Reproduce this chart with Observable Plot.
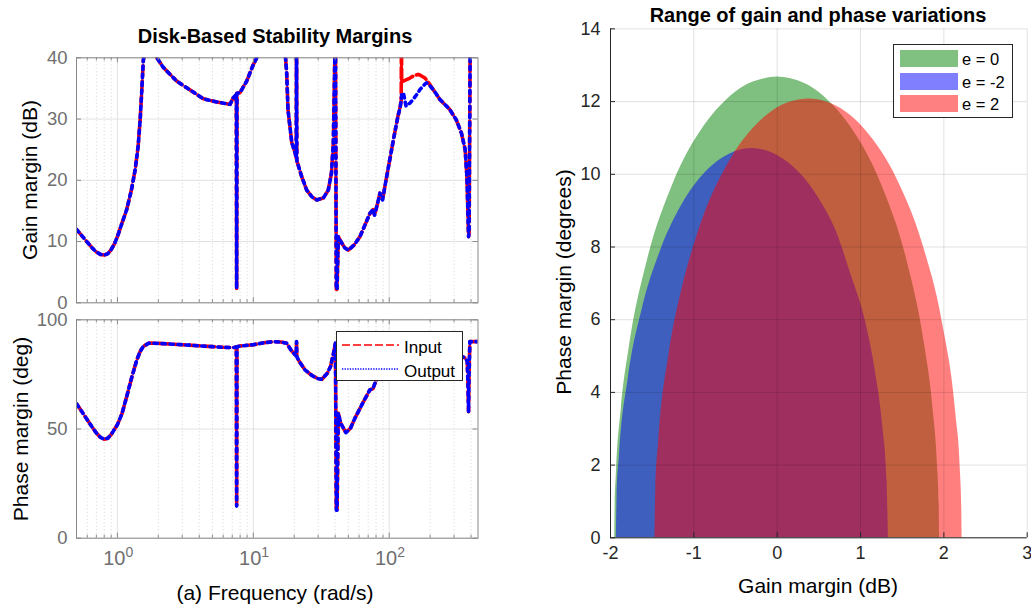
<!DOCTYPE html>
<html>
<head>
<meta charset="utf-8">
<script src="https://cdn.jsdelivr.net/npm/d3@7"></script>
<script src="https://cdn.jsdelivr.net/npm/@observablehq/plot@0.6"></script>
<style>
  html, body { margin: 0; padding: 0; background: #fff; }
  #root { position: relative; width: 1031px; height: 609px; overflow: hidden; background: #fff;
          font-family: "Liberation Sans", Arial, Helvetica, sans-serif; }
  #root svg { max-width: none; }
  .txt { position: absolute; white-space: nowrap; line-height: 1; }
</style>
</head>
<body>
<div id="root"></div>
<script>
// ---------------- data ----------------
// Disk-based gain margin (dB) vs frequency (rad/s)
const gmFreq = [0.5,0.55,0.6,0.65,0.7,0.75,0.8,0.85,0.9,0.95,1.0,1.08,1.17,1.27,1.35,1.42,1.47,1.51,1.55,1.7,1.85,1.95,
  2.18,2.73,3.24,4.29,5.38,6.74,7.13,7.50,7.54,7.58,7.98,8.94,10.0,10.9,13,16,17.0,17.6,18.0,19.2,20.3,20.7,20.8,20.9,
  22.7,24.7,27,29.3,32.7,35.6,37.6,38.8,39.3,39.8,40.2,40.8,41.3,42.2,44,47,50,55,60.9,66,72.1,76,78,82,85.5,89.4,92.9,
  101,108.6,116,120,122.5,123,123.5,127,133,142,150,163,168,183,188,198,211,236,278,311,340,362,373,380,383.5,387,395,450];
const gmInput = [12.0,10.9,9.9,9.0,8.3,7.9,7.8,8.0,8.7,9.6,10.8,13.0,15.2,18.5,21.7,25.5,29.9,34.5,39.5,46,43,40.0,
  38.4,36.2,35.1,33.3,32.8,32.4,33.5,34.0,2.3,34.2,34.3,36.2,38.9,40.5,47,45,42,37.5,31.5,26.1,24.5,23.6,46,23.2,
  20.6,18.4,17.3,16.8,17.1,18.4,21.2,26.1,33.2,40.5,46,2.2,2.2,10.8,10.0,9.0,8.6,9.4,10.8,12.6,14.6,15.2,14.3,16.2,17.9,16.8,19.0,
  23.4,27.2,30.5,31.8,33,46,36,36.2,36.4,36.7,37.0,37.3,37.2,36.7,36.4,35.7,34.8,33.2,31.6,29.9,27.7,25.0,20.6,14,10.8,11.5,46,48];
const gmOutput = [12.0,10.9,9.9,9.0,8.3,7.9,7.8,8.0,8.7,9.6,10.8,13.0,15.2,18.5,21.7,25.5,29.9,34.5,39.5,46,43,40.0,
  38.4,36.2,35.1,33.3,32.8,32.4,33.5,34.0,2.3,34.2,34.3,36.2,38.9,40.5,47,45,42,37.5,31.5,26.1,24.5,23.6,46,23.2,
  20.6,18.4,17.3,16.8,17.1,18.4,21.2,26.1,33.2,40.5,46,2.2,2.2,10.8,10.0,9.0,8.6,9.4,10.8,12.6,14.6,15.2,14.3,16.2,17.9,16.8,19.0,
  23.4,27.2,30.5,31.8,33,33.5,34,34.3,32.1,32.6,33.2,34.3,34.8,35.7,35.9,35.5,34.8,33.2,31.6,29.9,27.7,25.0,20.6,14,10.8,11.5,46,48];

// Disk-based phase margin (deg) vs frequency (rad/s)
const pmFreq = [0.5,0.55,0.6,0.65,0.7,0.75,0.8,0.85,0.9,0.95,1.0,1.08,1.17,1.28,1.39,1.47,1.55,1.7,2.0,3.0,4.0,5.0,6.0,7.3,
  7.50,7.54,7.58,8.0,10,12,14,16,17.6,19,20.3,20.7,20.8,20.9,22,24,27,30,32,35,37,39,40.2,40.8,41.3,42.2,44,48,52,56,64,72,
  76,78,81,90,100,120,150,200,250,300,362,375,380,383.5,386,392,450];
const pmInput = [61.5,57.8,54.2,51.0,48.2,46.2,45.3,45.8,47.5,49.8,52.0,57,64.8,74,81.7,85.5,87.8,89.3,89.2,88.6,88.1,87.7,87.4,87.3,
  87.6,14.7,87.7,88.0,88.6,89.5,90.0,89.8,89.3,86.0,84.0,83.5,90.0,83.0,80.5,77.1,74.5,73.0,72.8,75.5,78.6,85,89.3,12.8,12.8,57.2,52.6,48.3,50.5,55,62,67.9,
  68.5,70.5,72.5,76.5,80,84,86,86.5,86,85,82.5,81,70,57.9,72,90,90];
const pmOutput = pmInput.slice();

const seriesNames = ["Input", "Output"];
const decadeTicks = [1, 10, 100];
const minorFreqTicks = [0.5,0.6,0.7,0.8,0.9,2,3,4,5,6,7,8,9,20,30,40,50,60,70,80,90,200,300,400];
const gmTicks = [0, 10, 20, 30, 40];
const pmTicks = [0, 50, 100];

// Range of gain and phase variations (upper boundary of each region)
const skewNames = ["e = 0", "e = -2", "e = 2"];
const gainE0  = [-1.949,-1.944,-1.929,-1.870,-1.773,-1.555,-1.253,-0.872,-0.600,-0.424,-0.077,0,0.077,0.424,0.600,0.872,1.253,1.555,1.773,1.870,1.929,1.944,1.949];
const phaseE0 = [0,0.90,1.79,3.56,5.26,7.65,9.71,11.34,12.06,12.38,12.66,12.68,12.66,12.38,12.06,11.34,9.71,7.65,5.26,3.56,1.79,0.90,0];
const gainEm2  = [-1.930,-1.921,-1.893,-1.786,-1.616,-1.396,-1.137,-0.857,-0.567,-0.298,0.002,0.265,0.505,0.720,0.881,1.058,1.178,1.265,1.318,1.335];
const phaseEm2 = [0,1.14,2.26,4.40,6.32,7.92,9.18,10.06,10.56,10.71,10.52,10.05,9.32,8.37,7.27,5.97,4.58,3.10,1.56,0];
const gainE2  = [-1.467,-1.457,-1.423,-1.295,-1.140,-0.971,-0.537,-0.280,-0.050,0.183,0.376,0.602,1.049,1.436,1.751,1.989,2.144,2.201,2.214,2.219];
const phaseE2 = [0,1.32,2.62,5.09,6.86,8.24,10.49,11.28,11.75,12.00,12.07,11.98,11.24,9.88,8.04,5.85,3.42,1.72,0.86,0];
const gainTicks = [-2, -1, 0, 1, 2, 3];
const phaseTicks = [0, 2, 4, 6, 8, 10, 12, 14];

// ---------------- drawing ----------------
const FONT = '"Liberation Sans", Arial, Helvetica, sans-serif';
const AX_GRAY = "#6f6f6f";
const FRAME_GRAY = "#8a8a8a";
const GRID = "#e2e2e2";
const DARK = "#262626";
const root = document.getElementById("root");

function place(el, left, top) {
  el.style.position = "absolute";
  el.style.left = left + "px";
  el.style.top = top + "px";
  root.appendChild(el);
}
function addText(str, cx, cy, {size = 21, weight = "normal", rotate = 0, color = "#000", anchor = "middle"} = {}) {
  const d = document.createElement("div");
  d.className = "txt";
  d.textContent = str;
  d.style.fontSize = size + "px";
  d.style.fontWeight = weight;
  d.style.color = color;
  d.style.left = cx + "px";
  d.style.top = cy + "px";
  d.style.transform = `translate(${anchor === "middle" ? "-50%" : "0"},-50%) rotate(${rotate}deg)`;
  root.appendChild(d);
  return d;
}

function freqPanel({freq, input, output, yTicks, yMax, height, marginTop, marginBottom, freqLabels}) {
  const W = 490, mL = 76, mR = 12.5;
  const fw = W - mL - mR, fh = height - marginTop - marginBottom;
  const rows = freq.map((f, i) => ({f, input: input[i], output: output[i]}));
  const marks = [
    Plot.ruleX(minorFreqTicks, {x: d => d, stroke: "#d4d4d4", strokeDasharray: "1,2.5"}),
    Plot.ruleX(decadeTicks, {x: d => d, stroke: GRID}),
    Plot.ruleY(yTicks, {y: d => d, stroke: GRID}),
    Plot.line(rows, {x: "f", y: "input", stroke: "#ff0000", strokeWidth: 3.6, strokeDasharray: "11,4", clip: true}),
    Plot.line(rows, {x: "f", y: "output", stroke: "#0000ff", strokeWidth: 3.6, strokeDasharray: "3.6,4.4", clip: true}),
    Plot.tickX(decadeTicks, {x: d => d, insetTop: fh - 5, stroke: FRAME_GRAY}),
    Plot.tickX(decadeTicks, {x: d => d, insetBottom: fh - 5, stroke: FRAME_GRAY}),
    Plot.tickX(minorFreqTicks, {x: d => d, insetTop: fh - 3, stroke: FRAME_GRAY}),
    Plot.tickX(minorFreqTicks, {x: d => d, insetBottom: fh - 3, stroke: FRAME_GRAY}),
    Plot.tickY(yTicks, {y: d => d, insetRight: fw - 5, stroke: FRAME_GRAY}),
    Plot.tickY(yTicks, {y: d => d, insetLeft: fw - 5, stroke: FRAME_GRAY}),
    Plot.frame({stroke: FRAME_GRAY}),
    Plot.text(yTicks, {y: d => d, text: d => String(d), frameAnchor: "left", textAnchor: "end", dx: -9, fontSize: 18.5, fill: AX_GRAY})
  ];
  if (freqLabels) {
    marks.push(
      Plot.text(decadeTicks, {x: d => d, text: () => "10", frameAnchor: "bottom", textAnchor: "end", dx: 8, dy: 26.5, fontSize: 20, fill: AX_GRAY}),
      Plot.text(decadeTicks, {x: d => d, text: d => String(Math.round(Math.log10(d))), frameAnchor: "bottom", textAnchor: "start", dx: 8, dy: 19, fontSize: 14, fill: AX_GRAY})
    );
  }
  return Plot.plot({
    width: W, height, marginLeft: mL, marginRight: mR, marginTop, marginBottom,
    style: {fontFamily: FONT, fontSize: "18px", background: "transparent", overflow: "visible"},
    x: {type: "log", domain: [0.5, 450], axis: null},
    y: {domain: [0, yMax], axis: null},
    marks
  });
}

// top-left: gain margin
place(freqPanel({freq: gmFreq, input: gmInput, output: gmOutput, yTicks: gmTicks, yMax: 40,
  height: 310, marginTop: 57.3, marginBottom: 7.7, freqLabels: false}), 0, 0);
// bottom-left: phase margin
place(freqPanel({freq: pmFreq, input: pmInput, output: pmOutput, yTicks: pmTicks, yMax: 100,
  height: 309, marginTop: 19.3, marginBottom: 71.3, freqLabels: true}), 0, 300);

// right panel
{
  const W = 491, H = 609, mL = 70, mR = 4.3, mT = 28.4, mB = 71.7;
  const fw = W - mL - mR, fh = H - mT - mB;
  const mk = (g, p) => g.map((x, i) => ({g: x, p: p[i]}));
  const chart = Plot.plot({
    width: W, height: H, marginLeft: mL, marginRight: mR, marginTop: mT, marginBottom: mB,
    style: {fontFamily: FONT, fontSize: "18px", background: "transparent", overflow: "visible"},
    x: {domain: [-2, 3], axis: null},
    y: {domain: [0, 14], axis: null},
    marks: [
      Plot.areaY(mk(gainE0, phaseE0), {x: "g", y: "p", fill: "#008000", fillOpacity: 0.5, curve: "monotone-x"}),
      Plot.areaY(mk(gainEm2, phaseEm2), {x: "g", y: "p", fill: "#0000ff", fillOpacity: 0.5, curve: "monotone-x"}),
      Plot.areaY(mk(gainE2, phaseE2), {x: "g", y: "p", fill: "#ff0000", fillOpacity: 0.5, curve: "monotone-x"}),
      Plot.ruleX(gainTicks, {x: d => d, stroke: "#000", strokeOpacity: 0.12}),
      Plot.ruleY(phaseTicks, {y: d => d, stroke: "#000", strokeOpacity: 0.12}),
      Plot.ruleX([-2], {x: d => d, stroke: DARK}),
      Plot.ruleY([0], {y: d => d, stroke: DARK}),
      Plot.tickX(gainTicks, {x: d => d, insetTop: fh - 5, stroke: DARK}),
      Plot.tickY(phaseTicks, {y: d => d, insetRight: fw - 5, stroke: DARK}),
      Plot.text(gainTicks, {x: d => d, text: d => String(d), frameAnchor: "bottom", dy: 21, fontSize: 18, fill: DARK}),
      Plot.text(phaseTicks, {y: d => d, text: d => String(d), frameAnchor: "left", textAnchor: "end", dx: -10, fontSize: 18, fill: DARK})
    ]
  });
  place(chart, 540, 0);
}

// titles and axis labels
addText("Disk-Based Stability Margins", 275, 36, {size: 20, weight: "bold"});
addText("Gain margin (dB)", 29, 180, {rotate: -90});
addText("Phase margin (deg)", 20, 429, {rotate: -90});
addText("(a) Frequency (rad/s)", 275, 592);
addText("Range of gain and phase variations", 818, 15, {size: 20, weight: "bold"});
addText("Phase margin (degrees)", 563, 282, {rotate: -90});
addText("Gain margin (dB)", 818, 585);

// legend: Input / Output
{
  const lg = document.createElement("div");
  lg.style.cssText = "width:125px;height:48px;border:1px solid #262626;background:#fff;";
  const styles = [
    {stroke: "#ff0000", dash: "8,3", w: 1.3},
    {stroke: "#0000ff", dash: "1.3,1.3", w: 1.3}
  ];
  seriesNames.forEach((name, i) => {
    const cy = i === 0 ? 13 : 37;
    const svg = document.createElementNS("http://www.w3.org/2000/svg", "svg");
    svg.setAttribute("width", "60"); svg.setAttribute("height", "6");
    svg.style.cssText = `position:absolute;left:5px;top:${cy - 3}px;`;
    const ln = document.createElementNS("http://www.w3.org/2000/svg", "line");
    ln.setAttribute("x1", "0"); ln.setAttribute("x2", "57"); ln.setAttribute("y1", "3"); ln.setAttribute("y2", "3");
    ln.setAttribute("stroke", styles[i].stroke); ln.setAttribute("stroke-width", styles[i].w);
    ln.setAttribute("stroke-dasharray", styles[i].dash);
    svg.appendChild(ln); lg.appendChild(svg);
    const t = document.createElement("div");
    t.className = "txt"; t.textContent = name;
    t.style.cssText += `left:67px;top:${cy + 2}px;font-size:17px;transform:translate(0,-50%);color:#000;`;
    lg.appendChild(t);
  });
  place(lg, 336, 331);
}

// legend: skew values
{
  const lg = document.createElement("div");
  lg.style.cssText = "width:118px;height:72px;border:1px solid #262626;background:#fff;";
  const fills = ["#80c080", "#8080ff", "#ff8080"];
  const tops = [5, 28.3, 50];
  skewNames.forEach((name, i) => {
    const sw = document.createElement("div");
    sw.style.cssText = `position:absolute;left:5.5px;top:${tops[i]}px;width:58.5px;height:16.7px;background:${fills[i]};`;
    lg.appendChild(sw);
    const t = document.createElement("div");
    t.className = "txt"; t.textContent = name;
    t.style.cssText += `left:68px;top:${tops[i] + 9}px;font-size:16.5px;transform:translate(0,-50%);color:#000;`;
    lg.appendChild(t);
  });
  place(lg, 893, 44);
}
</script>
</body>
</html>
